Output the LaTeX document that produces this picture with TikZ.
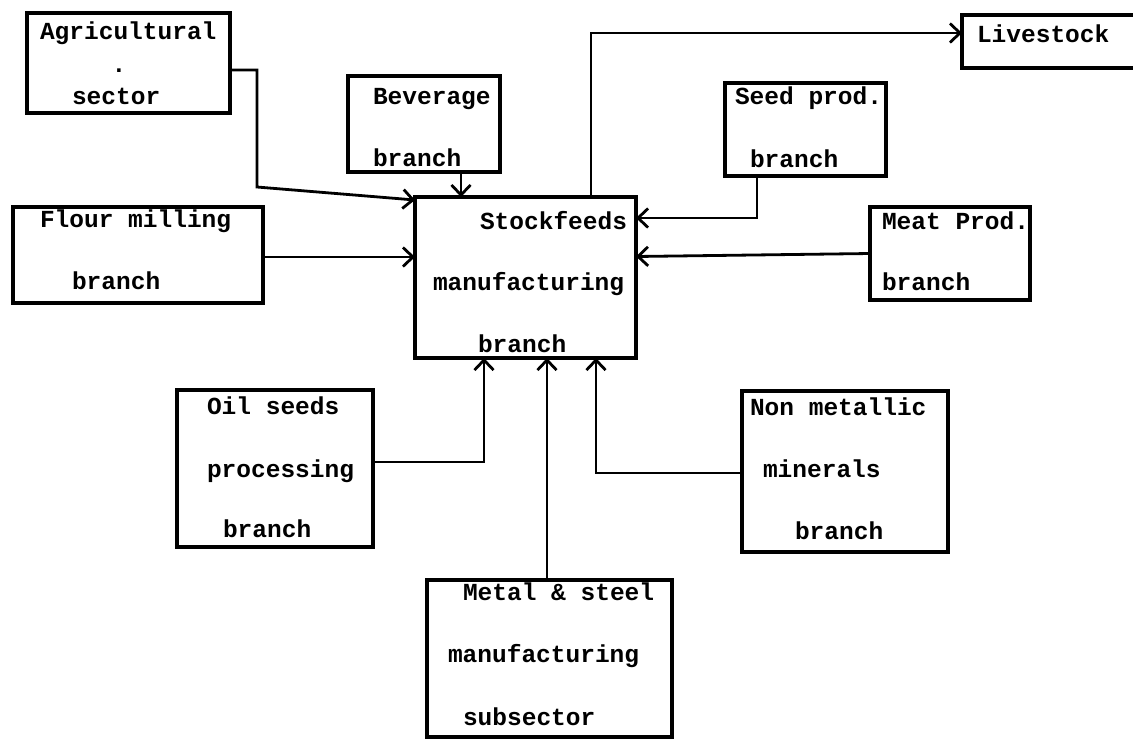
\documentclass[tikz,border=0pt]{standalone}
\usepackage{fontspec}
\newfontfamily\monofam{Liberation Mono}
\usetikzlibrary{arrows.meta}
\tikzset{
  box/.style={draw, line width=3.2pt, rectangle, inner sep=0pt, outer sep=0pt, anchor=north west},
  txt/.style={inner sep=0pt, outer sep=0pt, anchor=base west, font=\monofam\bfseries\fontsize{24.5}{26}\selectfont},
  arr/.style={line width=2.8pt, -{Straight Barb[length=10pt,width=19pt,line width=2.8pt]}},
}
\begin{document}
\begin{tikzpicture}[x=1pt,y=-1pt]
\useasboundingbox[fill=white] (0,0) rectangle (1133,740);
% boxes
\node[box, minimum width=203pt, minimum height=100pt] (agri) at (27,13) {};
\node[box, minimum width=152pt, minimum height=96pt] (bev) at (348,76) {};
\node[box, minimum width=200pt, minimum height=53pt] (live) at (962,15) {};
\node[box, minimum width=161pt, minimum height=93pt] (seed) at (725,83) {};
\node[box, minimum width=250pt, minimum height=96pt] (flour) at (13,207) {};
\node[box, minimum width=221pt, minimum height=161pt] (stock) at (415,197) {};
\node[box, minimum width=160pt, minimum height=93pt] (meat) at (870,207) {};
\node[box, minimum width=196pt, minimum height=157pt] (oil) at (177,390) {};
\node[box, minimum width=206pt, minimum height=161pt] (nonm) at (742,391) {};
\node[box, minimum width=245pt, minimum height=157pt] (metal) at (427,580) {};
% texts
\node[txt] (a1) at (40,39) {Agricultural};
\node[txt, anchor=base] (a2) at (119,72) {.};
\node[txt] (a3) at (72,104) {sector};
\node[txt] (b1) at (373,104) {Beverage};
\node[txt] (b2) at (373,166) {branch};
\node[txt] (l1) at (977,42) {Livestock};
\node[txt] (s1) at (735,104) {Seed prod.};
\node[txt] (s2) at (750,167) {branch};
\node[txt] (f1) at (40,227) {Flour milling};
\node[txt] (f2) at (72,289) {branch};
\node[txt] (k1) at (480,229) {Stockfeeds};
\node[txt] (k2) at (433,290) {manufacturing};
\node[txt] (k3) at (478,352) {branch};
\node[txt] (m1) at (882,229) {Meat Prod.};
\node[txt] (m2) at (882,290) {branch};
\node[txt] (o1) at (207,414) {Oil seeds};
\node[txt] (o2) at (207,477) {processing};
\node[txt] (o3) at (223,537) {branch};
\node[txt] (n1) at (750,415) {Non metallic};
\node[txt] (n2) at (763,477) {minerals};
\node[txt] (n3) at (795,539) {branch};
\node[txt] (e1) at (463,600) {Metal \& steel};
\node[txt] (e2) at (448,662) {manufacturing};
\node[txt] (e3) at (463,725) {subsector};
% connectors
\coordinate (agbend) at (257,187);
\draw[arr] ([yshift=-7pt]agri.east) -| (agbend) -- ([yshift=-3pt]stock.north west);
\draw[arr] ([xshift=37pt]bev.south) -- ([xshift=-64.5pt]stock.north);
\draw[arr] ([xshift=65.5pt]stock.north) |- ([yshift=8.5pt]live.west);
\draw[arr] ([xshift=-48.5pt]seed.south) |- ([yshift=59.5pt]stock.east);
\draw[arr] ([yshift=0pt]meat.west) -- ([yshift=21pt]stock.east);
\draw[arr] ([yshift=-2pt]flour.east) -- ([yshift=20.5pt]stock.west);
\draw[arr] ([yshift=6.5pt]oil.east) -| ([xshift=-41.5pt]stock.south);
\draw[arr] ([xshift=-2.5pt]metal.north) -- ([xshift=21.5pt]stock.south);
\draw[arr] ([yshift=-1.5pt]nonm.west) -| ([xshift=70.5pt]stock.south);
\end{tikzpicture}
\end{document}
